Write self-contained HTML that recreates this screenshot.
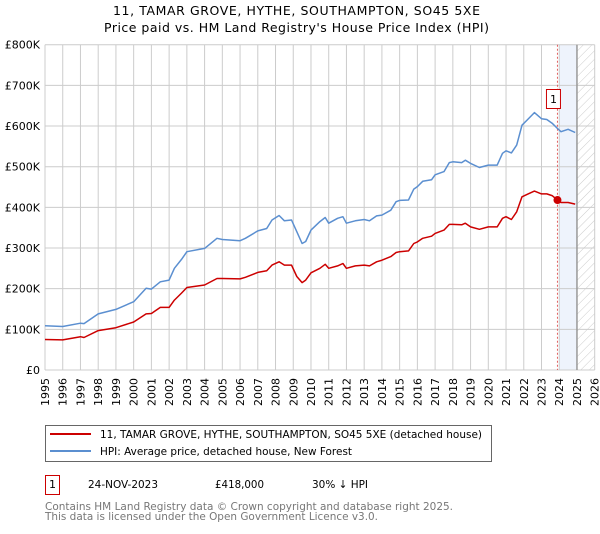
<!DOCTYPE html>
<html><head><meta charset="utf-8">
<style>
body{margin:0;background:#fff;width:600px;height:530px;overflow:hidden;font-family:"DejaVu Sans","Liberation Sans",sans-serif;}
svg text{font-family:"DejaVu Sans","Liberation Sans",sans-serif;}
</style></head>
<body>
<svg id="chart" width="600" height="530" xmlns="http://www.w3.org/2000/svg">
<defs>
<pattern id="hatch" width="6" height="6" patternUnits="userSpaceOnUse" patternTransform="rotate(45)">
<line x1="0" y1="0" x2="0" y2="6" stroke="#ccc" stroke-width="1"/>
</pattern>
</defs>
<text x="113" y="15" font-size="12.5" textLength="367" lengthAdjust="spacing" fill="#000">11, TAMAR GROVE, HYTHE, SOUTHAMPTON, SO45 5XE</text>
<text x="104" y="32" font-size="12.5" textLength="385" lengthAdjust="spacing" fill="#000">Price paid vs. HM Land Registry's House Price Index (HPI)</text>
<g id="grid"></g>
<g id="marks"></g>
<g id="axes"></g>
<g>
<rect x="45.5" y="425.5" width="446" height="36" fill="#fff" stroke="#666"/>
<line x1="50" y1="434" x2="91" y2="434" stroke="#cc0000" stroke-width="2"/>
<text x="100" y="438" font-size="11" textLength="382" lengthAdjust="spacingAndGlyphs">11, TAMAR GROVE, HYTHE, SOUTHAMPTON, SO45 5XE (detached house)</text>
<line x1="50" y1="451" x2="91" y2="451" stroke="#5b8fd0" stroke-width="2"/>
<text x="100" y="455" font-size="11" textLength="252" lengthAdjust="spacingAndGlyphs">HPI: Average price, detached house, New Forest</text>
</g>
<g>
<rect x="45.5" y="475.5" width="14" height="19" fill="#fff" stroke="#cc0000"/>
<text x="49" y="488" font-size="11">1</text>
<text x="88" y="488" font-size="11" textLength="70" lengthAdjust="spacingAndGlyphs">24-NOV-2023</text>
<text x="215" y="488" font-size="11" textLength="49" lengthAdjust="spacingAndGlyphs">£418,000</text>
<text x="312" y="488" font-size="11" textLength="56" lengthAdjust="spacingAndGlyphs">30% ↓ HPI</text>
</g>
<text x="45" y="510" font-size="11" fill="#777" textLength="408" lengthAdjust="spacingAndGlyphs">Contains HM Land Registry data © Crown copyright and database right 2025.</text>
<text x="45" y="520" font-size="11" fill="#777" textLength="333" lengthAdjust="spacingAndGlyphs">This data is licensed under the Open Government Licence v3.0.</text>
</svg>
<script>
const yearTicks=[1995,1996,1997,1998,1999,2000,2001,2002,2003,2004,2005,2006,2007,2008,2009,2010,2011,2012,2013,2014,2015,2016,2017,2018,2019,2020,2021,2022,2023,2024,2025,2026];
const valueTicks=[0,100000,200000,300000,400000,500000,600000,700000,800000];
const valueTickLabels=["£0","£100K","£200K","£300K","£400K","£500K","£600K","£700K","£800K"];
const dates=[1995,1996,1997,1997.2,1998,1999,2000,2000.7,2001,2001.5,2002,2002.3,2002.7,2003,2004,2004.7,2005,2006,2006.3,2007,2007.5,2007.8,2008.2,2008.5,2008.9,2009.2,2009.5,2009.7,2010,2010.5,2010.8,2011,2011.5,2011.8,2012,2012.5,2013,2013.3,2013.7,2014,2014.5,2014.8,2015,2015.5,2015.8,2016,2016.3,2016.8,2017,2017.5,2017.8,2018,2018.5,2018.7,2019,2019.5,2020,2020.5,2020.8,2021,2021.3,2021.6,2021.9,2022.2,2022.6,2023,2023.3,2023.6,2023.9,2024.1,2024.5,2024.9];
const hpiValues=[109,107,115,114,138,149,168,201,199,217,221,250,272,291,299,324,321,318,324,342,348,369,380,367,369,340,311,316,344,365,375,361,373,377,361,367,370,367,379,381,393,414,417,418,445,451,464,468,480,488,510,512,510,516,508,498,504,504,533,539,534,553,602,615,633,618,616,607,594,586,592,584];
const propertyValues=[75,74,82,80,97,104,118,138,139,154,154,172,189,203,209,225,225,224,228,240,244,258,266,258,258,230,215,221,239,250,260,250,256,262,250,256,258,256,266,270,279,289,291,293,311,315,324,329,336,344,358,358,357,361,352,346,352,352,373,377,370,389,426,432,440,433,433,429,418,412,412,408];
const saleDate=[2023.9];
const salePrice=[418000];
const ns="http://www.w3.org/2000/svg";
const X0=45,X1=594.7,Y0=370,Y1=44.7;
function xs(y){return X0+(y-1995)/(2026-1995)*(X1-X0);}
function ys(v){return Y0-v/800000*(Y0-Y1);}
function mk(t,a,p){const e=document.createElementNS(ns,t);for(const k in a)e.setAttribute(k,a[k]);p.appendChild(e);return e;}
const grid=document.getElementById('grid'),marks=document.getElementById('marks'),axes=document.getElementById('axes');
let r=mk('rect',{x:xs(2024),y:Y1,width:xs(2025)-xs(2024),height:Y0-Y1,fill:'#eef3fc'},grid);


r=mk('rect',{x:xs(2025),y:Y1,width:X1-xs(2025),height:Y0-Y1,fill:'url(#hatch)'},grid);


yearTicks.forEach(y=>{
 const l=mk('line',{x1:xs(y),x2:xs(y),y1:Y1,y2:Y0,stroke:'#ccc','stroke-width':1},grid);
 
 
 const t=mk('text',{x:0,y:0,'font-size':11,'text-anchor':'end',transform:`translate(${xs(y)+4},${Y0+8}) rotate(-90)`},axes);
 t.textContent=y;
 
 
});
valueTicks.forEach((v,i)=>{
 const l=mk('line',{x1:X0,x2:X1,y1:ys(v),y2:ys(v),stroke:'#ccc','stroke-width':1},grid);
 
 
 const t=mk('text',{x:X0-5,y:ys(v)+4,'font-size':11,'text-anchor':'end'},axes);
 t.textContent=valueTickLabels[i];
 
 
});
let vl=mk('line',{x1:xs(2025),x2:xs(2025),y1:Y1,y2:Y0,stroke:'#999','stroke-width':1.5},grid);


let dl=mk('line',{x1:xs(saleDate[0]),x2:xs(saleDate[0]),y1:Y1,y2:Y0,stroke:'#e06060','stroke-width':1,'stroke-dasharray':'2,2'},grid);


function path(vals,col,name){
 const d=dates.map((x,i)=>(i?'L':'M')+xs(x).toFixed(1)+','+ys(vals[i]*1000).toFixed(1)).join('');
 const p=mk('path',{d:d,fill:'none',stroke:col,'stroke-width':1.5,'stroke-linejoin':'round'},marks);
 
 
}
path(hpiValues,'#5b8fd0','hpi-line');
path(propertyValues,'#cc0000','property-price-line');
const c=mk('circle',{cx:xs(saleDate[0]),cy:ys(salePrice[0]),r:4,fill:'#cc0000'},marks);


const bx=xs(saleDate[0])-11;
const b=mk('rect',{x:bx,y:89.5,width:14,height:19,fill:'#fff',stroke:'#cc0000'},marks);


const bt=mk('text',{x:bx+7,y:103,'font-size':11,'text-anchor':'middle'},marks);
bt.textContent='1';


</script>
</body></html>
